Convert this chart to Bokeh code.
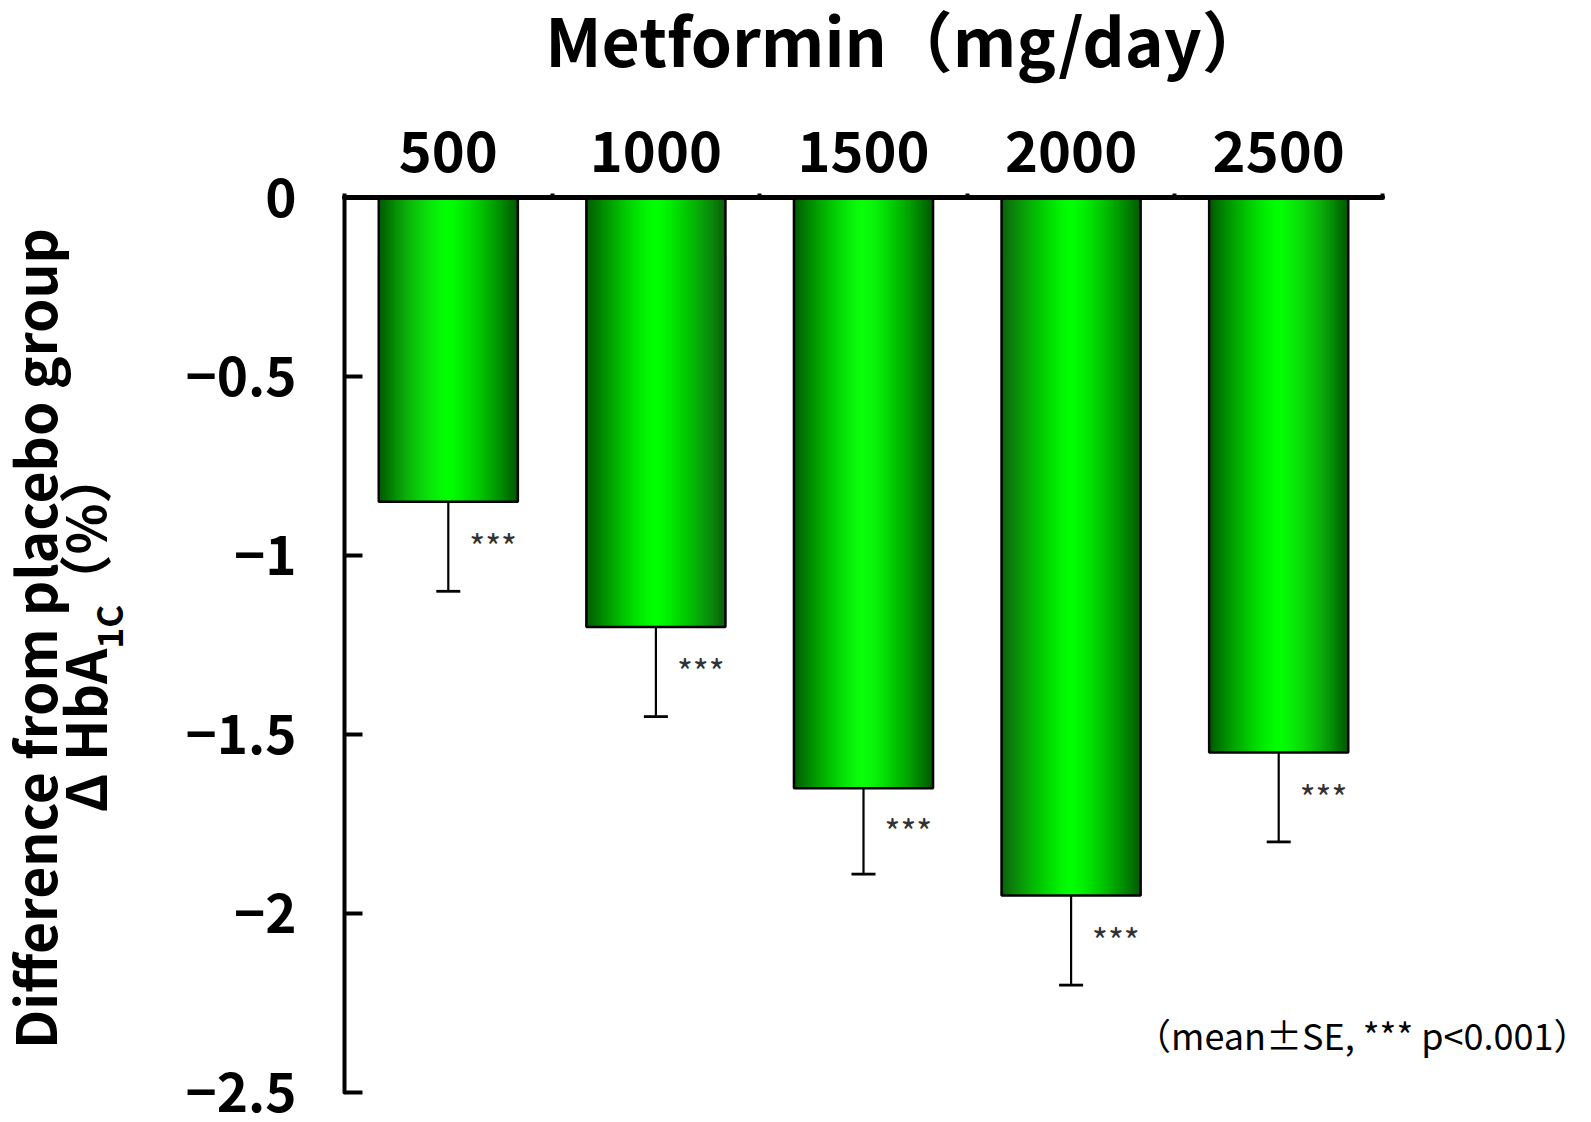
import math
from bokeh.plotting import figure
from bokeh.models import ColumnDataSource, Range1d, FixedTicker, Label, Whisker, TeeHead
from bokeh.embed import file_html
from bokeh.resources import INLINE
from bokeh.core.properties import value

# ---------------- data ----------------
categories = ["500", "1000", "1500", "2000", "2500"]
means = [-0.85, -1.20, -1.65, -1.95, -1.55]
se = [0.25, 0.25, 0.24, 0.25, 0.25]
y_ticks = [0, -0.5, -1, -1.5, -2, -2.5]
y_tick_labels = ["0", "−0.5", "−1", "−1.5", "−2", "−2.5"]
y_min, y_max = -2.5, 0
title_text = "Metformin（mg/day）"
ylabel_line1 = "Difference from placebo group"
ylabel_main = "Δ HbA"
ylabel_sub = "1C"
ylabel_tail = "（%）"
note_text = "（mean±SE, *** p<0.001）"
star_text = "***"

# ---------------- layout ----------------
FONT = "Noto Sans CJK JP"
W, H = 1590, 1120
# where the plotting area (axes box) sits on the canvas, in pixels
AX_L, AX_T, AX_R, AX_B = 344, 197, 1382, 1092
BAR_W = 0.67
N_STRIPS = 140

n = len(categories)
pxx = (AX_R - AX_L) / n
pxy = (AX_B - AX_T) / (y_max - y_min)
x_range = Range1d(-AX_L / pxx, n + (W - AX_R) / pxx)
y_range = Range1d(y_min - (H - AX_B) / pxy, y_max + AX_T / pxy)

p = figure(width=W, height=H, output_backend="svg", toolbar_location=None,
           x_range=x_range, y_range=y_range, x_axis_location="above",
           min_border=0)
p.min_border_left = 0
p.min_border_right = 0
p.min_border_top = 0
p.min_border_bottom = 0
p.outline_line_color = None
p.xgrid.visible = False
p.ygrid.visible = False
p.background_fill_color = "white"
p.border_fill_color = "white"

centers = [i + 0.5 for i in range(n)]

# gradient strips (horizontal gradient inside each bar)
sx, stop, sbot, scol = [], [], [], []
dark = (0, 88, 0)
bright = (0, 255, 0)
for c, m in zip(centers, means):
    for k in range(N_STRIPS):
        t = (k + 0.5) / N_STRIPS
        f = 1 - abs(2 * t - 1) ** 1.35
        col = tuple(int(round(d + (b - d) * f)) for d, b in zip(dark, bright))
        sx.append(c - BAR_W / 2 + t * BAR_W)
        stop.append(0)
        sbot.append(m)
        scol.append("#%02x%02x%02x" % col)
strip_src = ColumnDataSource(dict(x=sx, top=stop, bottom=sbot, color=scol))
p.vbar(x="x", width=BAR_W / N_STRIPS * 1.6, top="top", bottom="bottom",
       fill_color="color", line_color=None, source=strip_src)

bar_src = ColumnDataSource(dict(x=centers, top=[0] * n, bottom=means,
                                lower=[m - s for m, s in zip(means, se)],
                                star_y=[m - s / 2 for m, s in zip(means, se)],
                                star=[star_text] * n))
p.vbar(x="x", width=BAR_W, top="top", bottom="bottom", fill_color=None,
       line_color="black", line_width=2.5, source=bar_src)

wh = Whisker(source=bar_src, base="x", upper="bottom", lower="lower",
             dimension="height", line_color="black", line_width=2.2,
             upper_head=None,
             lower_head=TeeHead(size=24, line_width=2.8, line_color="black"))
p.add_layout(wh)

p.text(x="x", y="star_y", text="star", source=bar_src, x_offset=21, y_offset=-1,
       text_align="left", text_baseline="middle",
       text_font=value(FONT), text_font_size="34px", text_color="#333333")

# ---------------- axes ----------------
xa = p.xaxis[0]
xa.fixed_location = y_max
xa.bounds = (0, n)
xa.ticker = FixedTicker(ticks=centers, minor_ticks=list(range(n + 1)))
xa.major_label_overrides = {c: lab for c, lab in zip(centers, categories)}
xa.major_tick_in = 0
xa.major_tick_out = 0
xa.minor_tick_in = 0
xa.minor_tick_out = 4
xa.minor_tick_line_width = 4
xa.minor_tick_line_color = "black"
xa.axis_line_width = 5
xa.axis_line_cap = "round"
xa.axis_line_color = "black"
xa.major_label_text_font = FONT
xa.major_label_text_font_style = "bold"
xa.major_label_text_font_size = "56px"
xa.major_label_text_color = "black"
xa.major_label_standoff = 22

ya = p.yaxis[0]
ya.fixed_location = 0
ya.bounds = (y_min, y_max)
ya.ticker = FixedTicker(ticks=y_ticks)
ya.major_label_overrides = {t: lab for t, lab in zip(y_ticks, y_tick_labels)}
ya.major_tick_in = 18
ya.major_tick_out = 0
ya.major_tick_line_width = 4
ya.major_tick_line_color = "black"
ya.minor_tick_line_color = None
ya.axis_line_width = 4
ya.axis_line_cap = "round"
ya.axis_line_color = "black"
ya.major_label_text_font = FONT
ya.major_label_text_font_style = "bold"
ya.major_label_text_font_size = "53px"
ya.major_label_text_color = "black"
ya.major_label_standoff = 48

# ---------------- texts ----------------
p.add_layout(Label(x=n / 2, y=y_max, x_offset=43, y_offset=AX_T - 37,
                   text=title_text, text_align="center", text_baseline="middle",
                   text_font=FONT, text_font_style="bold", text_font_size="66px",
                   text_color="black"))

rot = math.pi / 2
p.add_layout(Label(x=0, y=y_max, x_offset=32 - AX_L, y_offset=AX_T - 638,
                   angle=rot, text=ylabel_line1, text_align="center", text_baseline="middle",
                   text_font=FONT, text_font_style="bold", text_font_size="55px",
                   text_color="black"))
p.add_layout(Label(x=0, y=y_max, x_offset=82 - AX_L, y_offset=AX_T - 812,
                   angle=rot, text=ylabel_main, text_align="left", text_baseline="middle",
                   text_font=FONT, text_font_style="bold", text_font_size="55px",
                   text_color="black"))
p.add_layout(Label(x=0, y=y_max, x_offset=107 - AX_L, y_offset=AX_T - 648,
                   angle=rot, text=ylabel_sub, text_align="left", text_baseline="middle",
                   text_font=FONT, text_font_style="bold", text_font_size="35px",
                   text_color="black"))
p.add_layout(Label(x=0, y=y_max, x_offset=82 - AX_L, y_offset=AX_T - 450,
                   angle=rot, text=ylabel_tail, text_align="right", text_baseline="middle",
                   text_font=FONT, text_font_style="bold", text_font_size="53px",
                   text_color="black"))

p.add_layout(Label(x=n, y=y_min, x_offset=1589 - AX_R, y_offset=AX_B - 1033,
                   text=note_text, text_align="right", text_baseline="middle",
                   text_font=FONT, text_font_size="36px", text_color="black"))

open("out.html", "w").write(file_html(p, INLINE))
